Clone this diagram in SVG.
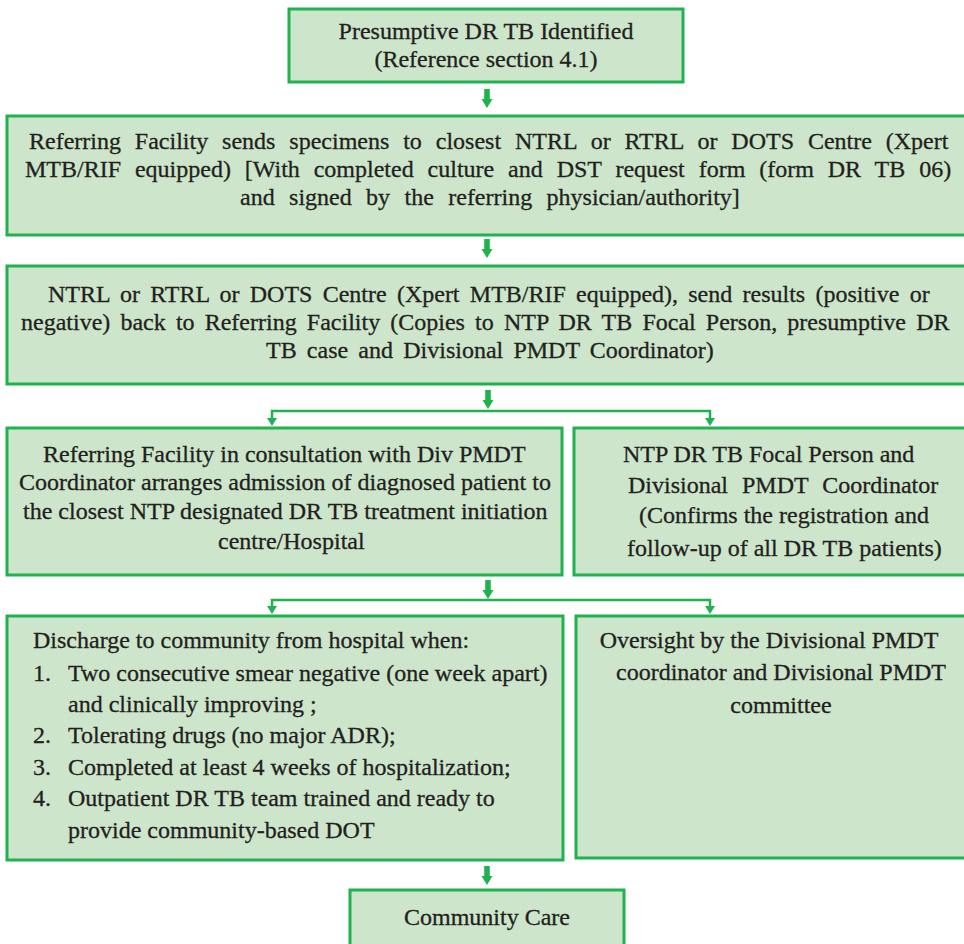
<svg xmlns="http://www.w3.org/2000/svg" width="964" height="944" viewBox="0 0 964 944">
<style>
.box{fill:#cde6cb;stroke:#1fb24e;stroke-width:3}
text{font-family:'Liberation Serif','Times New Roman',serif;font-size:24px;fill:#231f20;stroke:#231f20;stroke-width:0.3}
.c{text-anchor:middle}
.ln{fill:none;stroke:#1fb24e;stroke-width:2.5}
.fat{fill:#1fb24e}
</style>
<defs>
<path id="fat" d="M-2.8,0 H2.8 V10 H5.5 L0,19 L-5.5,10 H-2.8 Z"/>
<path id="small" d="M-5,0 L5,0 L0,8 Z"/>
</defs>
<rect width="964" height="944" fill="#fff"/>
<g id="n1">
<rect class="box" x="289" y="9" width="394" height="73"/>
<text class="c" x="486" y="39">Presumptive DR TB Identified</text>
<text class="c" x="486" y="67">(Reference section 4.1)</text>
</g>
<g id="n2">
<rect class="box" x="7" y="116" width="965" height="119"/>
<text x="29" y="149" word-spacing="7.9">Referring Facility sends specimens to closest NTRL or RTRL or DOTS Centre (Xpert</text>
<text x="25" y="177" word-spacing="7.9">MTB/RIF equipped) [With completed culture and DST request form (form DR TB 06)</text>
<text x="240" y="205" word-spacing="8.4">and signed by the referring physician/authority]</text>
</g>
<g id="n3">
<rect class="box" x="7" y="266" width="965" height="118"/>
<text x="48" y="302" word-spacing="4.25">NTRL or RTRL or DOTS Centre (Xpert MTB/RIF equipped), send results (positive or</text>
<text x="21" y="330" word-spacing="4.15">negative) back to Referring Facility (Copies to NTP DR TB Focal Person, presumptive DR</text>
<text x="266" y="358" word-spacing="4.2">TB case and Divisional PMDT Coordinator)</text>
</g>
<g id="n4">
<rect class="box" x="7" y="428" width="555" height="147"/>
<text x="43" y="462">Referring Facility in consultation with Div PMDT</text>
<text x="19" y="490">Coordinator arranges admission of diagnosed patient to</text>
<text x="23" y="519">the closest NTP designated DR TB treatment initiation</text>
<text x="218" y="549">centre/Hospital</text>
</g>
<g id="n5">
<rect class="box" x="574" y="428" width="398" height="147"/>
<text x="623" y="462">NTP DR TB Focal Person and</text>
<text x="628" y="493" word-spacing="8">Divisional PMDT Coordinator</text>
<text x="639" y="523">(Confirms the registration and</text>
<text x="627" y="556">follow-up of all DR TB patients)</text>
</g>
<g id="n6">
<rect class="box" x="7" y="616" width="556" height="244"/>
<text x="33" y="648">Discharge to community from hospital when:</text>
<text x="33" y="681">1.</text><text x="68" y="681">Two consecutive smear negative (one week apart)</text>
<text x="68" y="712">and clinically improving ;</text>
<text x="33" y="743">2.</text><text x="68" y="743">Tolerating drugs (no major ADR);</text>
<text x="33" y="775">3.</text><text x="68" y="775">Completed at least 4 weeks of hospitalization;</text>
<text x="33" y="806">4.</text><text x="68" y="806">Outpatient DR TB team trained and ready to</text>
<text x="68" y="838">provide community-based DOT</text>
</g>
<g id="n7">
<rect class="box" x="576" y="616" width="396" height="242"/>
<text class="c" x="769" y="648">Oversight by the Divisional PMDT</text>
<text class="c" x="781" y="680">coordinator and Divisional PMDT</text>
<text class="c" x="781" y="713">committee</text>
</g>
<g id="n8">
<rect class="box" x="350" y="890" width="274" height="70"/>
<text class="c" x="487" y="925">Community Care</text>
</g>
<g id="connectors">
<use href="#fat" class="fat" x="487" y="89"/>
<use href="#fat" class="fat" x="487" y="239"/>
<use href="#fat" class="fat" x="488" y="390"/>
<path class="ln" d="M272,421 V411 H710 V421"/>
<use href="#small" class="fat" x="272" y="418"/>
<use href="#small" class="fat" x="710" y="418"/>
<use href="#fat" class="fat" x="488" y="580"/>
<path class="ln" d="M272,609 V600 H710 V609"/>
<use href="#small" class="fat" x="272" y="606"/>
<use href="#small" class="fat" x="710" y="606"/>
<use href="#fat" class="fat" x="487" y="866"/>
</g>
</svg>
